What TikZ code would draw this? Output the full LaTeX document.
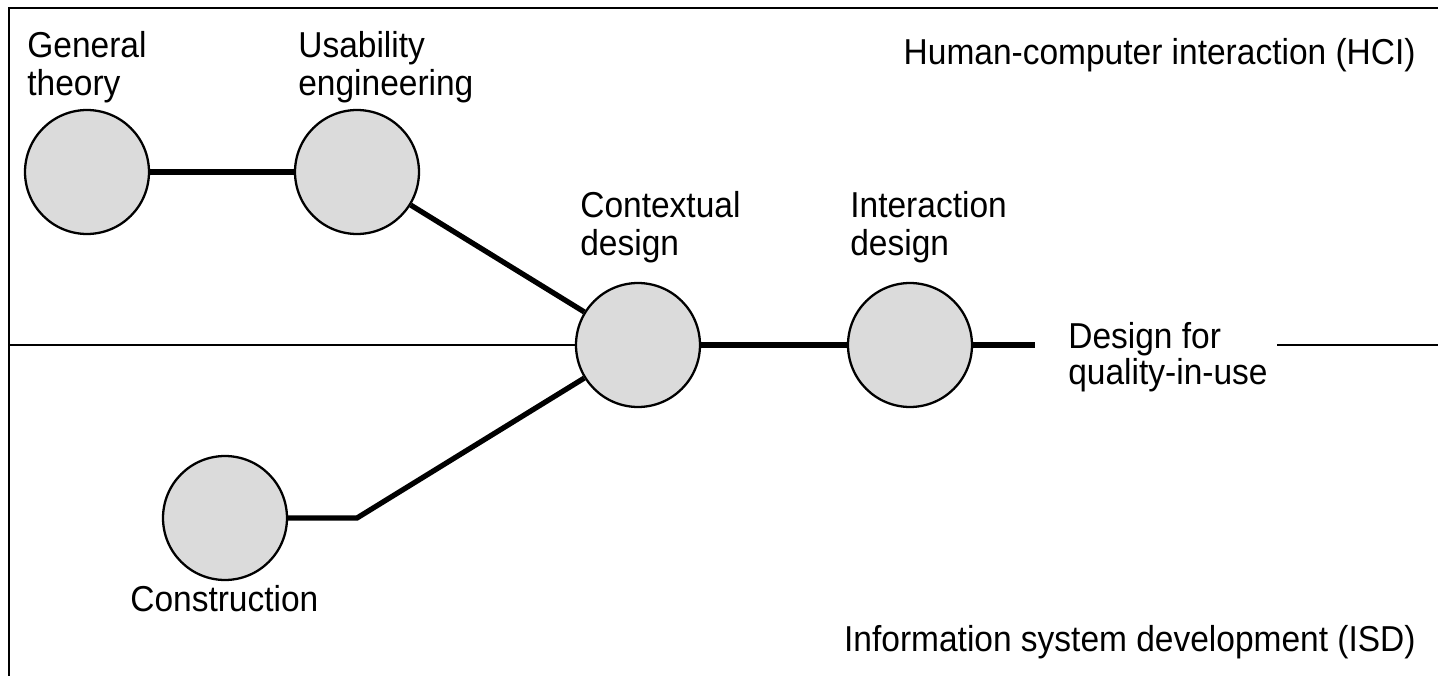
\documentclass[tikz,border=0pt]{standalone}
\usepackage{fontspec}
\setmainfont{Liberation Sans}[FakeStretch=0.93]
\usetikzlibrary{positioning}
\tikzstyle{topic} = [draw, circle, fill=black!14, minimum size=2.48cm, inner sep=0pt, line width=1.3pt]
\tikzstyle{caption} = [align=left, inner sep=0pt, font=\fontsize{20.5}{21.6}\selectfont]
\tikzstyle{tightcaption} = [caption, font=\fontsize{20.5}{18.8}\selectfont]
\tikzstyle{link} = [draw, line width=3pt, color=black]
\tikzstyle{divider} = [draw, line width=0.9pt, color=black]
\tikzstyle{frame} = [draw, line width=1.2pt, color=black]
\newcommand{\topic}[1]{node (c#1) [topic] {}}
\newcommand{\topictext}[2]{node (l#1) [caption, anchor=base west] {#2}}
\newcommand{\areatext}[2]{node (a#1) [caption, anchor=base east] {#2}}

\begin{document}
\begin{tikzpicture}[x=0.02cm,y=-0.02cm]
\useasboundingbox (0,0) rectangle (1438,676);
\path [frame] (1438,8) -- (9,8) -- (9,676);
\path (1416,64) \areatext{1}{Human-computer interaction (HCI)};
\path (1416,651) \areatext{2}{Information system development (ISD)};

\path (87,172) \topic{1};
\path (c1)+(-60,-77) \topictext{1}{General\\theory};
\path (c1)+(270,0) \topic{2};
\path (c2)+(-59,-77) \topictext{2}{Usability\\engineering};
\path [link] (c1) -- (c2);
\path (c2)+(281,173) \topic{3};
\path (c3)+(-58,-90) \topictext{3}{Contextual\\design};
\path [link] (c2) -- (c3);
\path (c3)+(272,0) \topic{4};
\path (c4)+(-60,-90) \topictext{4}{Interaction\\design};
\path [link] (c3) -- (c4);
\path (c1)+(138,346) \topic{5};
\path (c5)+(-95,93) \topictext{5}{Construction};

% free ends and bend
\coordinate (e1) at (1035,345);
\coordinate (k1) at (357,518);
\path [link] (c4) -- (e1);
\path [link] (c5) -- (k1) -- (c3);
\path (c4)+(158,39) node (l6) [tightcaption, anchor=base west] {Design for\\quality-in-use};

% border between HCI and ISD
\coordinate (w1) at (9,345);
\coordinate (w2) at (1277,345);
\coordinate (w3) at (1438,345);
\path [divider] (w1) -- (c3);
\path [divider] (w2) -- (w3);
\end{tikzpicture}
\end{document}
